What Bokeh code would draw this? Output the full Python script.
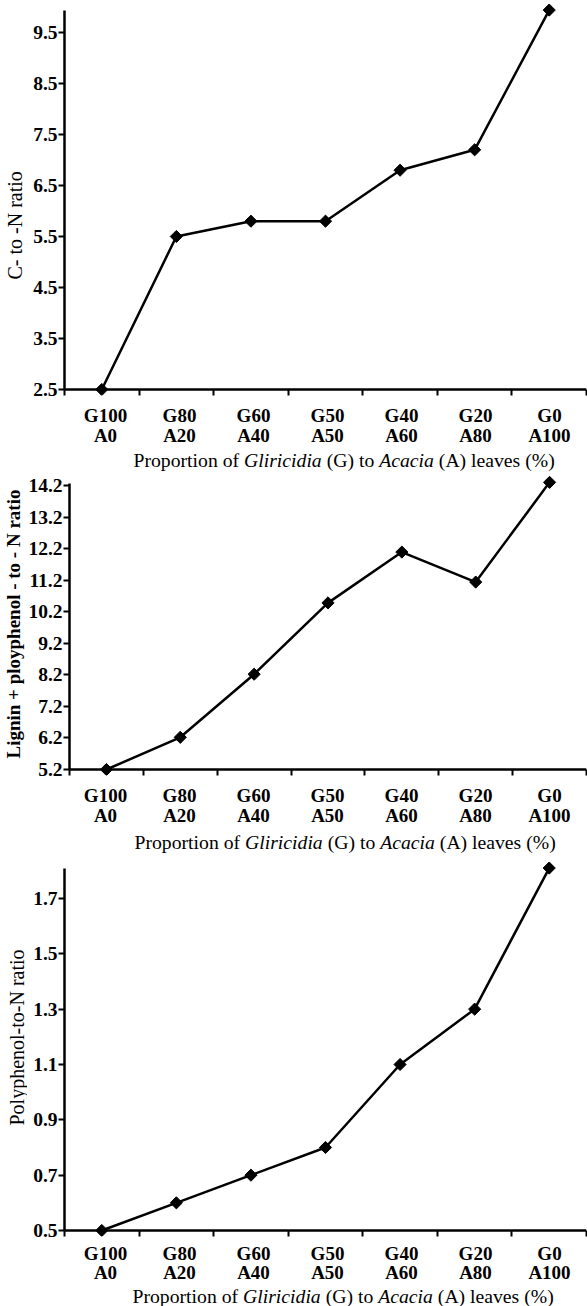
import math
from bokeh.plotting import figure
from bokeh.layouts import column, row
from bokeh.models import FixedTicker, Label, Range1d, PrintfTickFormatter, ColumnDataSource, Span
from bokeh.embed import file_html
from bokeh.resources import INLINE

# ---------------- data ----------------
categories = ["G100\nA0", "G80\nA20", "G60\nA40", "G50\nA50", "G40\nA60", "G20\nA80", "G0\nA100"]
cn_ratio = [2.5, 5.5, 5.8, 5.8, 6.8, 7.2, 9.94]
lignin_pp_n_ratio = [5.2, 6.22, 8.22, 10.48, 12.09, 11.14, 14.3]
polyphenol_n_ratio = [0.5, 0.6, 0.7, 0.8, 1.1, 1.3, 1.81]

cn_ticks = [2.5, 3.5, 4.5, 5.5, 6.5, 7.5, 8.5, 9.5]
lpn_ticks = [5.2, 6.2, 7.2, 8.2, 9.2, 10.2, 11.2, 12.2, 13.2, 14.2]
pn_ticks = [0.5, 0.7, 0.9, 1.1, 1.3, 1.5, 1.7]

ylabel_cn = "C- to -N ratio"
ylabel_lpn = "Lignin + ployphenol - to - N ratio"
ylabel_pn = "Polyphenol-to-N ratio"
xlabel_parts = ["Proportion of", "Gliricidia", "(G) to", "Acacia", "(A) leaves (%)"]
xlabel_styles = ["normal", "italic", "normal", "italic", "normal"]

FONT = "Liberation Serif"
TOTAL_W = 587
N = len(categories)
XS = [i + 0.5 for i in range(N)]


def strip(width, height, mbl=0, mbr=0, x_range=(0, 1)):
    s = figure(width=width, height=height, x_range=Range1d(*x_range), y_range=Range1d(0, 1),
               x_axis_type=None, y_axis_type=None, output_backend="svg",
               toolbar_location=None, min_border_left=mbl, min_border_right=mbr,
               min_border_top=0, min_border_bottom=0)
    s.outline_line_color = None
    s.grid.visible = False
    return s


def make_chart(values, yticks, y_start, y_end, axis_top, width, height, mbt, mbl, mbb):
    p = figure(width=width, height=height,
               x_range=Range1d(0, N), y_range=Range1d(y_start, y_end),
               output_backend="svg", toolbar_location=None,
               min_border_left=mbl, min_border_right=1,
               min_border_top=mbt, min_border_bottom=mbb)
    p.outline_line_color = None
    p.grid.visible = False

    # x axis line at the lowest y tick value
    p.add_layout(Span(location=yticks[0], dimension="width", line_color="black", line_width=2.5))

    src = ColumnDataSource(dict(x=XS, y=values))
    p.line("x", "y", source=src, line_color="black", line_width=2.5)
    p.scatter("x", "y", source=src, marker="square", angle=math.pi / 4, size=8.6,
              fill_color="black", line_color="black", line_width=1)

    xa = p.xaxis[0]
    xa.ticker = FixedTicker(ticks=[], minor_ticks=list(range(0, N + 1)))
    xa.axis_line_color = None
    xa.major_tick_line_color = None
    xa.major_tick_out = 0
    xa.major_tick_in = 0
    xa.major_label_standoff = 0
    xa.minor_tick_line_color = "black"
    xa.minor_tick_line_width = 2
    xa.minor_tick_out = 0
    xa.minor_tick_in = 6

    ya = p.yaxis[0]
    ya.ticker = FixedTicker(ticks=yticks)
    ya.formatter = PrintfTickFormatter(format="%.1f")
    ya.bounds = (yticks[0], axis_top)
    ya.axis_line_width = 2.5
    ya.axis_line_color = "black"
    ya.major_tick_line_color = "black"
    ya.major_tick_line_width = 2
    ya.major_tick_out = 6
    ya.major_tick_in = 0
    ya.minor_tick_line_color = None
    ya.major_label_text_font = FONT
    ya.major_label_text_font_size = "19.5px"
    ya.major_label_text_font_style = "bold"
    ya.major_label_text_color = "black"
    ya.major_label_standoff = 1
    return p


def ytitle_strip(text, width, height, x, y, size, style):
    s = strip(width, height)
    s.add_layout(Label(x=x, y=y, x_units="screen", y_units="screen", text=text,
                       angle=math.pi / 2, text_align="left", text_baseline="middle",
                       text_font=FONT, text_font_size=size, text_font_style=style,
                       text_color="black"))
    return s


def xtitle_strip(height, mbl, frame_w, y_line1, y_line2, title_left, title_base):
    s = strip(TOTAL_W, height, mbl=mbl, mbr=TOTAL_W - mbl - frame_w, x_range=(0, N))
    for x, cat in zip(XS, categories):
        top, bottom = cat.split("\n")
        for txt, yy in ((top, y_line1), (bottom, y_line2)):
            s.add_layout(Label(x=x, y=yy, x_units="data", y_units="screen", text=txt,
                               text_align="center", text_baseline="alphabetic",
                               text_font=FONT, text_font_size="19px",
                               text_font_style="bold", text_color="black"))
    F = 19.7
    offsets_em = [0.0, 5.611, 9.806, 12.472, 15.499]
    for part, style, off in zip(xlabel_parts, xlabel_styles, offsets_em):
        s.add_layout(Label(x=title_left + off * F, y=title_base, x_units="screen", y_units="screen",
                           text=part, text_align="left", text_baseline="alphabetic",
                           text_font=FONT, text_font_size=f"{F}px",
                           text_font_style=style, text_color="black"))
    return s


# panel 1 : y 0..399 chart, 399..472 tick labels + title
c1 = make_chart(cn_ratio, cn_ticks, 2.382, 10.069, 9.93, TOTAL_W - 26, 399, 3, 38, 4)
y1 = ytitle_strip(ylabel_cn, 26, 399, 14.5, 116, "20px", "normal")
x1 = xtitle_strip(73, 64, 522, 57.5, 37.5, 65, 13)

# panel 2 : y 472..779 chart, 779..858 tick labels + title
c2 = make_chart(lignin_pp_n_ratio, lpn_ticks, 5.01, 14.517, 14.26, TOTAL_W - 25, 307, 3, 43, 4)
y2 = ytitle_strip(ylabel_lpn, 25, 307, 12.5, 17, "19px", "bold")
x2 = xtitle_strip(79, 68, 518, 63, 43, 66, 17)

# panel 3 : y 858..1240 chart, 1240..1306 tick labels + title
c3 = make_chart(polyphenol_n_ratio, pn_ticks, 0.4783, 1.8373, 1.808, TOTAL_W - 27, 382, 2, 37, 4)
y3 = ytitle_strip(ylabel_pn, 27, 382, 16.5, 111, "20px", "normal")
x3 = xtitle_strip(66, 64, 522, 53, 34, 64, 11)

layout = column(row(y1, c1, spacing=0), x1,
                row(y2, c2, spacing=0), x2,
                row(y3, c3, spacing=0), x3, spacing=0)
open("out.html", "w").write(file_html(layout, INLINE))
